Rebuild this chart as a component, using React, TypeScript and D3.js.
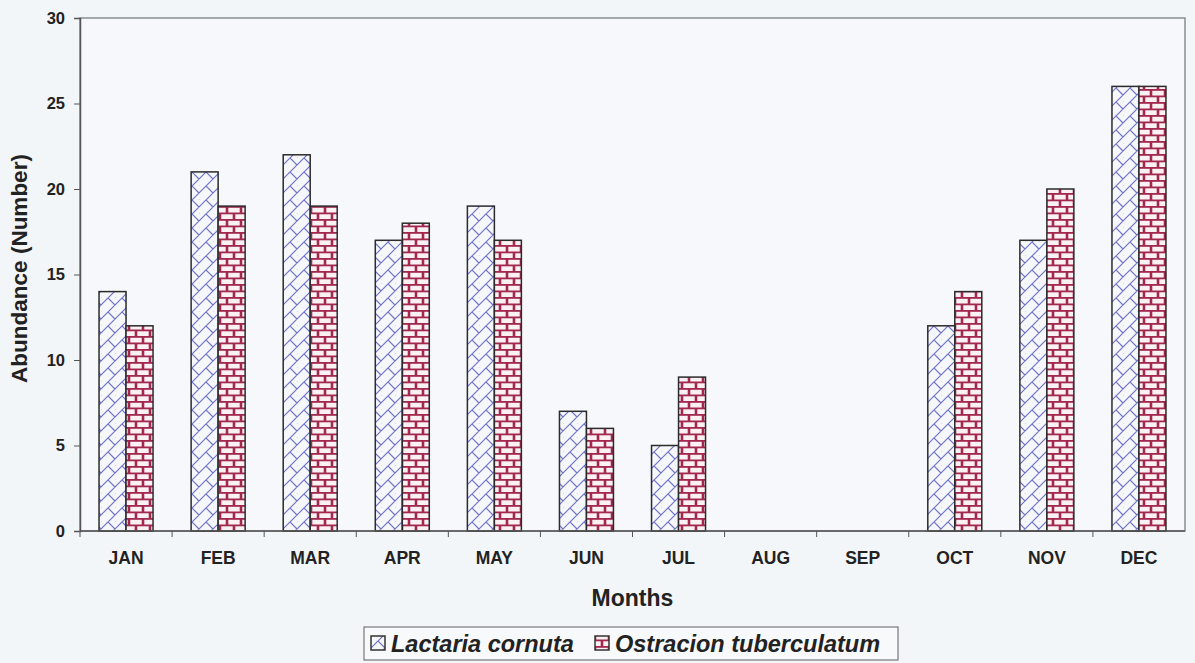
import { useEffect, useRef } from 'react';
import * as d3 from 'd3';

const months = ['JAN', 'FEB', 'MAR', 'APR', 'MAY', 'JUN', 'JUL', 'AUG', 'SEP', 'OCT', 'NOV', 'DEC'];
const lactaria = [14, 21, 22, 17, 19, 7, 5, 0, 0, 12, 17, 26];
const ostracion = [12, 19, 19, 18, 17, 6, 9, 0, 0, 14, 20, 26];
const yTicks = [0, 5, 10, 15, 20, 25, 30];

const FONT = 'Liberation Sans, Arial, sans-serif';

function App() {
    const chartRef = useRef<SVGSVGElement>(null);

    useEffect(() => {
        const svg = d3.select(chartRef.current);
        svg.selectAll('*').remove();

        const margin = { top: 18, right: 10, bottom: 132, left: 80 };
        const width = 1195 - margin.left - margin.right;
        const height = 663 - margin.top - margin.bottom;

        const defs = svg.append('defs');

        // weave-like diagonal lattice
        const p1 = defs.append('pattern')
            .attr('id', 'lattice')
            .attr('patternUnits', 'userSpaceOnUse')
            .attr('width', 14).attr('height', 14);
        p1.append('rect').attr('width', 14).attr('height', 14).attr('fill', '#f5f7fb');
        p1.append('path')
            .attr('d', 'M0,14 L14,0 M-3,3 L3,-3 M11,17 L17,11 M0,0 L7,7 M7,14 L14,21 M7,-7 L14,0')
            .attr('stroke', '#7072c6').attr('stroke-width', 1.2).attr('fill', 'none');

        // brick pattern
        const p2 = defs.append('pattern')
            .attr('id', 'brick')
            .attr('patternUnits', 'userSpaceOnUse')
            .attr('width', 14).attr('height', 13);
        p2.append('rect').attr('width', 14).attr('height', 13).attr('fill', '#a3284e');
        p2.append('rect').attr('x', 1.3).attr('y', 1.3).attr('width', 11.4).attr('height', 4.7).attr('fill', '#fbf1f5');
        p2.append('rect').attr('x', -5.7).attr('y', 7.8).attr('width', 11.4).attr('height', 4.7).attr('fill', '#fbf1f5');
        p2.append('rect').attr('x', 8.3).attr('y', 7.8).attr('width', 11.4).attr('height', 4.7).attr('fill', '#fbf1f5');

        svg.append('rect').attr('width', 1195).attr('height', 663).attr('fill', '#f3f6f9');

        const g = svg.append('g').attr('transform', `translate(${margin.left},${margin.top})`);

        const x0 = d3.scaleBand().domain(months).range([0, width]);
        const x1 = d3.scaleBand().domain(['a', 'b']).range([0, 54]);
        const y = d3.scaleLinear().domain([0, 30]).range([height, 0]);

        g.append('rect')
            .attr('width', width).attr('height', height)
            .attr('fill', '#f6f8fb').attr('stroke', '#8a8d92').attr('stroke-width', 1.5);

        const series = [
            { key: 'a', values: lactaria, fill: 'url(#lattice)' },
            { key: 'b', values: ostracion, fill: 'url(#brick)' },
        ];
        const off = (x0.bandwidth() - 54) / 2;

        series.forEach((s) => {
            g.selectAll(`.bar-${s.key}`)
                .data(s.values)
                .enter()
                .append('rect')
                .attr('x', (_d, i) => (x0(months[i]) as number) + off + (x1(s.key) as number))
                .attr('y', (d) => y(d))
                .attr('width', x1.bandwidth())
                .attr('height', (d) => height - y(d))
                .attr('fill', s.fill)
                .attr('stroke', '#2b2b2b')
                .attr('stroke-width', 1.5)
                .attr('opacity', (d) => (d > 0 ? 1 : 0));
        });

        // y axis
        const yAxis = g.append('g')
            .call(d3.axisLeft(y).tickValues(yTicks).tickSize(6).tickFormat(d3.format('d')));
        yAxis.select('.domain').attr('stroke', '#555').attr('stroke-width', 1.5);
        yAxis.selectAll('.tick line').attr('stroke', '#555');
        yAxis.selectAll('.tick text')
            .attr('font-family', FONT)
            .attr('font-weight', 'bold').attr('font-size', 16.5).attr('fill', '#222').attr('x', -15);

        // x axis
        const xAxis = g.append('g').attr('transform', `translate(0,${height})`);
        xAxis.append('line').attr('x1', 0).attr('x2', width).attr('stroke', '#555').attr('stroke-width', 1.5);
        xAxis.selectAll('.sep')
            .data(months)
            .enter()
            .append('line')
            .attr('x1', (d) => x0(d) as number).attr('x2', (d) => x0(d) as number)
            .attr('y1', 0).attr('y2', 6).attr('stroke', '#555');
        xAxis.selectAll('.lbl')
            .data(months)
            .enter()
            .append('text')
            .attr('x', (d) => (x0(d) as number) + x0.bandwidth() / 2)
            .attr('y', 33)
            .attr('text-anchor', 'middle')
            .attr('font-family', FONT)
            .attr('font-weight', 'bold').attr('font-size', 17.5).attr('fill', '#222')
            .text((d) => d);

        svg.append('text')
            .attr('x', margin.left + width / 2).attr('y', 606)
            .attr('text-anchor', 'middle')
            .attr('font-family', FONT)
            .attr('font-weight', 'bold').attr('font-size', 23).attr('fill', '#222')
            .text('Months');

        svg.append('text')
            .attr('transform', `translate(27,${margin.top + height / 2 - 6}) rotate(-90)`)
            .attr('text-anchor', 'middle')
            .attr('font-family', FONT)
            .attr('font-weight', 'bold').attr('font-size', 22.5).attr('fill', '#222')
            .text('Abundance (Number)');

        // legend
        const lg = svg.append('g').attr('transform', 'translate(364,627)');
        lg.append('rect').attr('width', 534).attr('height', 33)
            .attr('fill', '#f8f9fb').attr('stroke', '#777').attr('stroke-width', 1.2);
        const items = [
            { label: 'Lactaria cornuta', fill: 'url(#lattice)', x: 7 },
            { label: 'Ostracion tuberculatum', fill: 'url(#brick)', x: 231 },
        ];
        items.forEach((it) => {
            lg.append('rect').attr('x', it.x).attr('y', 9).attr('width', 14).attr('height', 14)
                .attr('fill', it.fill).attr('stroke', '#333').attr('stroke-width', 1.5);
            lg.append('text')
                .attr('x', it.x + 20).attr('y', 25)
                .attr('font-family', FONT)
                .attr('font-weight', 'bold').attr('font-style', 'italic')
                .attr('font-size', 23.5).attr('fill', '#222')
                .text(it.label);
        });
    }, []);

    return <svg ref={chartRef} width={1195} height={663} style={{ position: 'absolute', left: 0, top: 0 }}></svg>;
}

export default App;
